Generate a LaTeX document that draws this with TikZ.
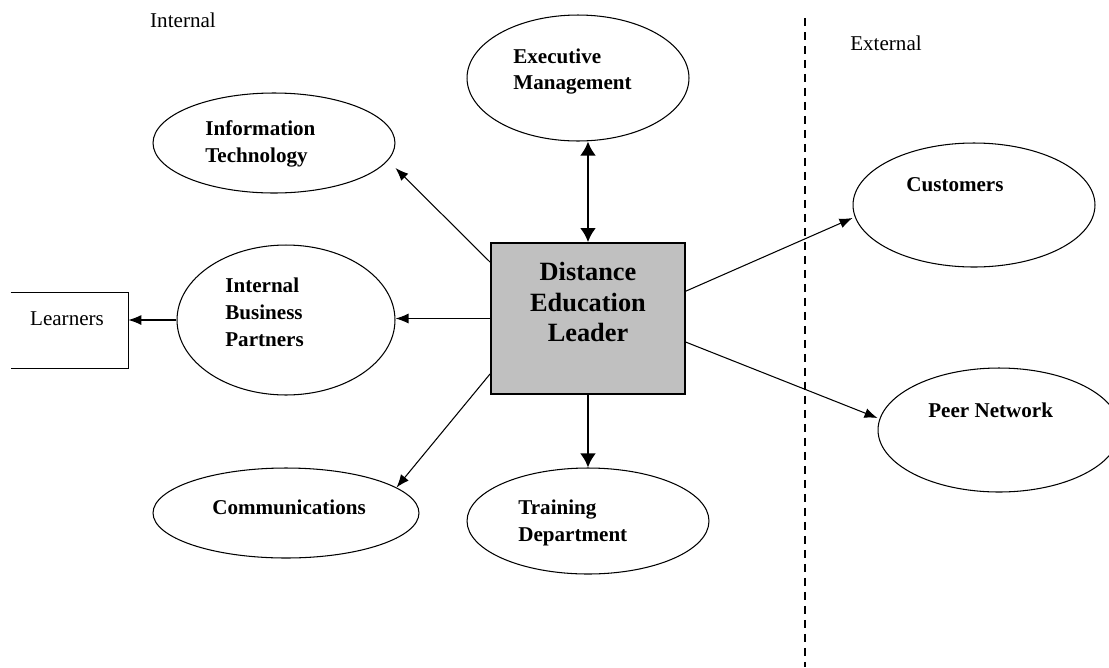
\documentclass[tikz,border=0pt]{standalone}
\usepackage{fontspec}
\setmainfont{Liberation Serif}
\usetikzlibrary{shapes.geometric,arrows.meta}
\definecolor{boxgray}{RGB}{192,192,192}
\tikzset{
	unit/.style={draw, ellipse, line width=0.6pt, inner sep=0pt},
	unitlabel/.style={anchor=west, align=left, inner sep=0pt, font=\bfseries\fontsize{12}{15.3}\selectfont},
	sidelabel/.style={inner sep=0pt, font=\fontsize{12}{14}\selectfont},
	thin arrow/.style={line width=0.6pt, >={Latex[length=0.26cm,width=0.2cm]}, ->},
	thick arrow/.style={line width=1.6pt, >={Latex[length=0.28cm,width=0.32cm]}},
}
\begin{document}
\begin{tikzpicture}[x=0.02cm,y=-0.02cm]
		\useasboundingbox (0,0) rectangle (1109,667);
		% leader
		\node[draw, line width=1pt, fill=boxgray, minimum width=3.88cm, minimum height=3.02cm, inner sep=0pt] (leader) at (588,318.5) {};
		\node[align=center, inner sep=0pt, font=\bfseries\fontsize{15}{17.3}\selectfont] (leader-t) at (588,302) {Distance\\Education\\Leader};
		% internal units
		\node[unit, minimum width=4.44cm, minimum height=2.52cm] (exec) at (578,78) {};
		\node[unit, minimum width=4.84cm, minimum height=2cm] (it) at (274,143) {};
		\node[unit, minimum width=4.36cm, minimum height=3cm] (ibp) at (286,320) {};
		\node[unit, minimum width=5.32cm, minimum height=1.8cm] (comm) at (286,513) {};
		\node[unit, minimum width=4.84cm, minimum height=2.12cm] (train) at (588,521) {};
		\node[unitlabel] (exec-t) at (513,71.5) {Executive\\Management};
		\node[unitlabel] (it-t) at (205,144) {Information\\Technology};
		\node[unitlabel] (ibp-t) at (225,312) {Internal\\Business\\Partners};
		\node[unitlabel] (comm-t) at (212,507) {Communications};
		\node[unitlabel] (train-t) at (518,522.5) {Training\\Department};
		% external units
		\node[unit, minimum width=4.84cm, minimum height=2.48cm] (cust) at (974,205) {};
		\node[unit, minimum width=4.84cm, minimum height=2.48cm] (peer) at (999,430) {};
		\node[unitlabel] (cust-t) at (906,185) {Customers};
		\node[unitlabel] (peer-t) at (928,410) {Peer Network};
		% learners
		\node[minimum width=2.34cm, minimum height=1.5cm, inner sep=0pt] (learn) at (69.5,330.5) {};
		\draw[line width=0.6pt] (learn.north west) -| (learn.south east) -- (learn.south west);
		\node[sidelabel] (learn-t) at (67,319) {Learners};
		% sides
		\node[sidelabel] (int-t) at (183,20) {Internal};
		\node[sidelabel] (ext-t) at (886,43) {External};
		\draw[line width=0.8pt, dash pattern=on 0.16cm off 0.12cm] (805,18) -- (805,667);
		% arrows
		\draw[thick arrow, <->] (leader.north) -- (leader.north |- exec.south);
		\draw[thick arrow, ->] (leader.south) -- (train.north);
		\draw[thin arrow] ([yshift=-0.4cm]leader.north west) -- ([yshift=-0.5cm]it.east);
		\draw[thin arrow] (leader.west) -- (leader.west -| ibp.east);
		\draw[thin arrow] (ibp.west) -- (ibp.west -| learn.east);
		\draw[thin arrow] ([yshift=0.42cm]leader.south west) -- (comm.13);
		\draw[thin arrow] ([yshift=-0.98cm]leader.north east) -- ([yshift=-0.26cm]cust.west);
		\draw[thin arrow] ([yshift=-2cm]leader.north east) -- ([yshift=0.24cm]peer.west);
\end{tikzpicture}
\end{document}
